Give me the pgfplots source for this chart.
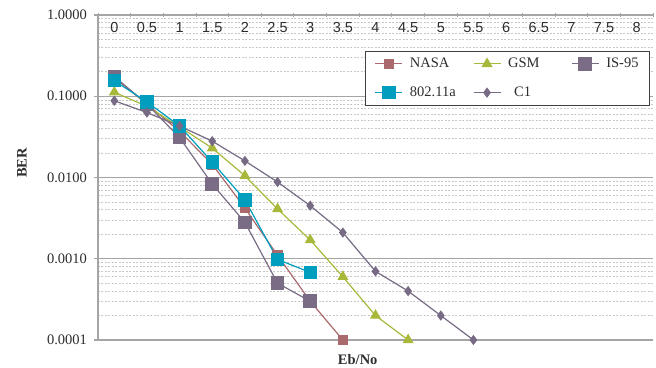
\documentclass[border=0pt]{standalone}
\usepackage{fontspec}
\setmainfont{Liberation Serif}
\newfontfamily\arial{Liberation Sans}
\usepackage{pgfplots}
\pgfplotsset{compat=1.18}
\definecolor{nasa}{RGB}{170,105,108}
\definecolor{gsm}{RGB}{168,184,58}
\definecolor{is95}{RGB}{122,108,132}
\definecolor{wifi}{RGB}{0,158,190}
\definecolor{cone}{RGB}{118,106,132}
\definecolor{axgray}{RGB}{165,165,165}
\definecolor{mgray}{RGB}{200,200,200}
\definecolor{txt}{RGB}{45,45,45}
\begin{document}
\fontsize{14.5}{17}\selectfont
\begin{tikzpicture}
\begin{axis}[
  scale only axis, width=555pt, height=325pt,
  ymode=log, ymin=1e-4, ymax=1,
  xmin=-0.5, xmax=16.5,
  clip=false,
  axis x line*=top, axis y line*=left,
  axis line style={-, draw=axgray, line width=1.5pt},
  xtick pos=upper, ytick pos=left,
  xticklabel pos=upper,
  xtick={0,...,16},
  xticklabels={0,0.5,1,1.5,2,2.5,3,3.5,4,4.5,5,5.5,6,6.5,7,7.5,8},
  minor xtick={-0.5,0.5,...,16.5},
  major x tick style={draw=none},
  minor x tick style={draw=axgray, line width=0.8pt},
  minor y tick style={draw=none},
  major y tick style={draw=axgray, line width=1.2pt},
  tick align=center,
  major tick length=8pt, minor tick length=5pt,
  xticklabel style={font=\arial, text=txt, anchor=center, yshift=-16.5pt},
  ytick={1e-4,1e-3,1e-2,1e-1,1},
  yticklabels={0.0001,0.0010,0.0100,0.1000,1.0000},
  yticklabel style={text=txt, xshift=-2pt},
  ymajorgrids, yminorgrids,
  major grid style={draw=axgray, line width=1.2pt},
  minor grid style={draw=mgray, line width=0.9pt, dash pattern=on 2pt off 1.5pt},
  every axis y label/.style={at={(axis description cs:-0.137,0.545)}, rotate=90, anchor=center, font=\bfseries, text=txt},
  every axis x label/.style={at={(axis description cs:0.468,0)}, anchor=center, yshift=-20pt, font=\bfseries, text=txt},
  ylabel={BER}, xlabel={Eb/No},
  legend columns=3,
  legend cell align=left,
  legend style={at={(axis description cs:1,1)}, anchor=north east, xshift=-3pt, yshift=-36pt,
    draw=black!75, line width=0.9pt, inner xsep=9pt, inner ysep=4.5pt,
    row sep=13pt, text=txt,
    /tikz/every odd column/.append style={column sep=5pt}},
  legend image code/.code={\draw[mark repeat=2,mark phase=2] plot coordinates {(0pt,0pt) (13.5pt,0pt) (27pt,0pt)};},
]
\addplot[nasa, line width=1.2pt, mark=square*, mark size=4.6pt, mark options={solid}] coordinates {
(0,0.17) (1,0.08) (2,0.037) (3,0.0145) (4,0.0042) (5,0.0011) (6,0.0003) (7,0.0001)};
\addlegendentry{\makebox[61pt][l]{NASA}}
\addplot[gsm, line width=1.2pt, mark=triangle*, mark size=5.2pt] coordinates {
(0,0.112) (1,0.075) (2,0.042) (3,0.023) (4,0.0105) (5,0.0041) (6,0.0017) (7,0.0006) (8,0.0002) (9,0.0001)};
\addlegendentry{\makebox[61pt][l]{GSM}}
\addplot[is95, line width=1.2pt, mark=square*, mark size=6.2pt] coordinates {
(0,0.175) (1,0.08) (2,0.031) (3,0.0083) (4,0.0028) (5,0.0005) (6,0.0003)};
\addlegendentry{IS-95}
\addplot[wifi, line width=1.2pt, mark=square*, mark size=6.1pt] coordinates {
(0,0.155) (1,0.085) (2,0.043) (3,0.0155) (4,0.0053) (5,0.00098) (6,0.00068)};
\addlegendentry{\makebox[61pt][l]{802.11a}}
\addplot[cone, line width=1.2pt, mark=diamond*, mark size=4.2pt] coordinates {
(0,0.088) (1,0.063) (2,0.043) (3,0.028) (4,0.016) (5,0.0088) (6,0.0045) (7,0.0021) (8,0.0007) (9,0.0004) (10,0.0002) (11,0.0001)};
\addlegendentry{\makebox[61pt][l]{\hspace{6pt}C1}}
\coordinate (ll) at (rel axis cs:0,0);
\coordinate (ur) at (rel axis cs:1,1);
\end{axis}
\pgfresetboundingbox
\path ([shift={(-98pt,-28pt)}]ll) rectangle ([shift={(3pt,15pt)}]ur);
\end{tikzpicture}
\end{document}
